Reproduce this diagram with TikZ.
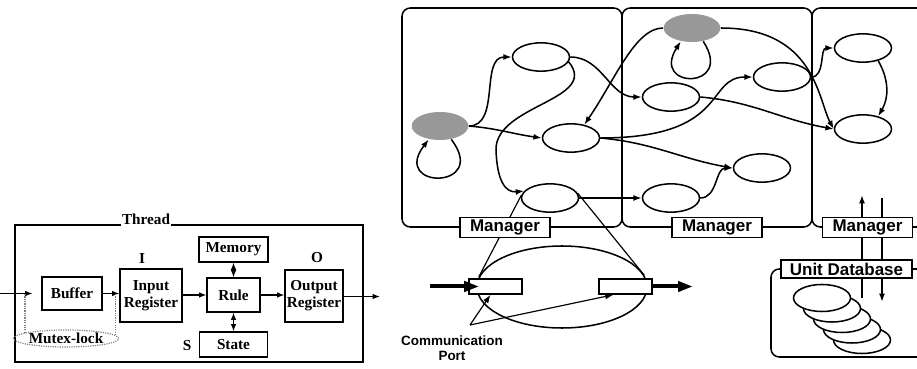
\documentclass[tikz,border=0pt]{standalone}
\usepackage{fontspec}
\setmainfont{Liberation Serif}
\setsansfont{Liberation Sans}
\usepackage{tikz}
\usetikzlibrary{positioning,shapes.geometric,arrows.meta}

\begin{document}
\begin{tikzpicture}[x=0.3mm, y=-0.3mm, line width=1pt,
	>={Latex[length=2.5mm,width=1.8mm]},
	blk/.style={draw, line width=1.1pt, align=center, inner sep=0pt,
		font=\bfseries\fontsize{13}{14.5}\selectfont},
	sigil/.style={font=\bfseries\fontsize{13}{14}\selectfont},
	sig/.style={->, line width=1.1pt, >={Latex[length=2.2mm,width=1.7mm]}},
	lock/.style={ellipse, draw=gray, densely dotted, inner sep=0pt, minimum height=5.1mm,
		font=\bfseries\fontsize{13}{14}\selectfont},
	proc/.style={ellipse, draw, line width=1.3pt, minimum width=17.1mm, minimum height=8.5mm, inner sep=0pt},
	busy/.style={ellipse, fill=black!40, minimum width=17mm, minimum height=8.4mm, inner sep=0pt},
	flow/.style={->, line width=1.3pt},
	frame/.style={line width=1.3pt, rounded corners=2.5mm},
	tag/.style={draw, line width=1.3pt, fill=white, inner sep=0pt, minimum width=27mm, minimum height=6mm,
		font=\sffamily\bfseries\fontsize{14.5}{15}\selectfont},
	port/.style={draw, line width=1.3pt, fill=white, minimum width=15.9mm, minimum height=4.5mm, inner sep=0pt},
	fat/.style={-{Triangle[length=4.5mm,width=3mm]}, line width=1.2mm},
	pointer/.style={->, line width=1pt}]
\useasboundingbox (0,0) rectangle (917,369);

% thread
\draw[line width=1.1pt] (15,225) rectangle (363,362);
\node (thread) [fill=white, inner xsep=1pt, inner ysep=0pt, text depth=1pt, anchor=base,
	font=\bfseries\fontsize{13}{14}\selectfont] at (146,225) {Thread};
\node (buffer) [blk, minimum width=18mm, minimum height=9.9mm] at (72,293.5) {Buffer};
\node (inreg) [blk, minimum width=18.6mm, minimum height=15.9mm] at (151,295.5) {Input\\Register};
\node (rule) [blk, minimum width=15.9mm, minimum height=10.2mm] at (233.5,295) {Rule};
\node (memory) [blk, minimum width=20.7mm, minimum height=7.5mm] at (233.5,249.5) {Memory};
\node (state) [blk, minimum width=20.4mm, minimum height=7.5mm] at (233.5,344.5) {State};
\node (outreg) [blk, minimum width=17.4mm, minimum height=15.6mm] at (314,296) {Output\\Register};
\node (ilab) [sigil] at (142,259) {I};
\node (olab) [sigil] at (317,258) {O};
\node (slab) [sigil] at (187,346) {S};
\node (mutex) [lock] at (66,338.5) {Mutex-lock};
\coordinate (threadin) at (0,293.5);
\coordinate (threadout) at (380,296.5);

\draw[sig] (threadin) -- ([xshift=-2.7mm]buffer.west);
\draw[sig] (buffer.east) -- (buffer.east -| inreg.west);
\draw[sig] (inreg.east |- rule.east) -- (rule.west);
\draw[sig] (rule.east) -- (rule.east -| outreg.west);
\draw[sig] (outreg.east |- threadout) -- (threadout);
\draw[sig, <->] (memory) -- (rule);
\draw[sig, <->] (rule) -- (state);
\draw[gray, densely dotted] (mutex.172) -- (mutex.172 |- buffer.west);
\draw[gray, densely dotted] (mutex.4) -- (mutex.4 |- buffer.east);

% processors
\draw[frame] (402,8) rectangle (622,227);
\draw[frame] (622,8) rectangle (812,227);
\draw[frame] (930,8) -| (812,227) -- (930,227);
\draw[frame] (930,269) -| (771,357) -- (930,357);

\node (A) [busy] at (440,126) {};
\node (B) [proc] at (541,57) {};
\node (C) [proc] at (571,138) {};
\node (D) [proc] at (550,198) {};
\node (E) [proc] at (671,97) {};
\node (F) [busy] at (692,28) {};
\node (G) [proc] at (782,77) {};
\node (H) [proc] at (762,168) {};
\node (I) [proc] at (671,198) {};
\node (J) [proc] at (863,48) {};
\node (K) [proc] at (863,129) {};

\draw[flow] (A.east) to[out=0,in=180] (B.west);
\draw[flow] (A.east) to[out=-5,in=172] (C.west);
\draw[flow] (A.-50) .. controls (490,190) and (390,190) .. (A.-130);
\draw[flow] (B.east) to[out=0,in=180] (E.west);
\draw[flow] (B.-10) .. controls (600,100) and (495,105) .. (496,150) .. controls (497,180) and (505,193) .. (D.165);
\draw[flow] (F.west) .. controls (635,28) and (615,80) .. (C.45);
\draw[flow] (F.-50) .. controls (735,90) and (650,90) .. (F.-130);
\draw[flow] (F.east) .. controls (815,28) and (818,100) .. (K.west);
\draw[flow] (C.east) .. controls (730,138) and (705,77) .. (G.west);
\draw[flow] (C.east) to[out=-5,in=170] (H.west);
\draw[flow] (E.east) to[out=-5,in=170] (K.west);
\draw[flow] (G.east) to[out=0,in=180] (J.west);
\draw[flow] (J.-40) to[bend left=30] (K.40);
\draw[flow] (D.east) -- (I.west);
\draw[flow] (I.east) to[out=0,in=180] (H.west);

% communication port
\node (zoom) [ellipse, draw, line width=1.3pt, minimum width=51mm, minimum height=24.6mm] at (562,287) {};
\draw (D.175) -- (zoom.173);
\draw (D.10) -- (zoom.8);
\node (inport) [port] at (495.5,286.5) {};
\node (outport) [port] at (625.5,286.5) {};
\coordinate (portin) at (430,286.5);
\coordinate (portout) at (693,286.5);
\draw[fat] (portin) -- ([xshift=3.3mm]inport.west);
\draw[fat] (outport.east) -- (portout);
\node (cplabel) [align=center, font=\sffamily\bfseries\fontsize{11.5}{12.5}\selectfont] at (452,348) {Communication\\Port};
\coordinate (cpfork) at (470,325);
\draw[pointer] (cpfork) -- ([xshift=-1.5mm]inport.south);
\draw[pointer] (cpfork) -- ([xshift=-3.6mm]outport.south);

% unit database
\coordinate (upfrom) at (862,298);
\coordinate (upto) at (862,195);
\coordinate (downfrom) at (882,198);
\coordinate (downto) at (882,302);
\draw[flow] (upfrom) -- (upto);
\draw[flow] (downfrom) -- (downto);
\foreach \k in {4,...,0}
	\draw[line width=1.3pt, fill=white] (822+10*\k,298+10.5*\k) ellipse [x radius=28.5, y radius=13.5];

\node (mgr1) [tag] at (505,227.5) {Manager};
\node (mgr2) [tag] at (717,227.5) {Manager};
\node (mgr3) [tag] at (867.5,227.5) {Manager};
\node (unitdb) [tag, minimum width=39.3mm, minimum height=5.4mm] at (846.5,269) {Unit Database};
\end{tikzpicture}
\end{document}
